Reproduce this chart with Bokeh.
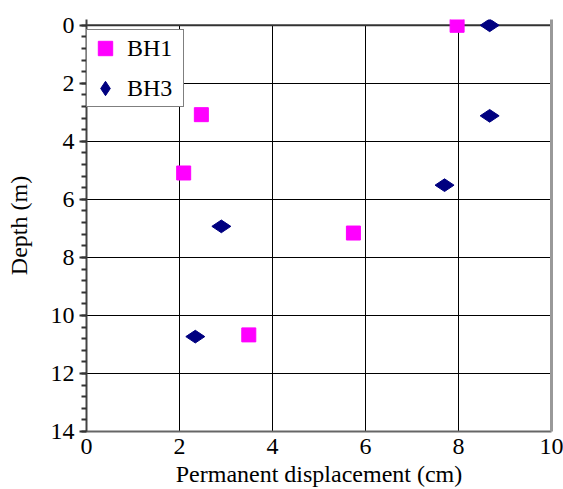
from bokeh.plotting import figure
from bokeh.models import (Range1d, SingleIntervalTicker, Legend, LegendItem,
                          LinearAxis, FixedTicker, Span)
from bokeh.embed import file_html
from bokeh.resources import INLINE
import math

# Data
bh1_disp = [7.97, 2.47, 2.09, 5.74, 3.49]
bh1_depth = [0.0, 3.08, 5.09, 7.16, 10.67]
bh3_disp = [8.67, 8.67, 7.70, 2.90, 2.34]
bh3_depth = [0.0, 3.12, 5.51, 6.93, 10.73]

x_ticks = [0, 2, 4, 6, 8, 10]
y_ticks = [0, 2, 4, 6, 8, 10, 12, 14]

FONT = "Liberation Serif"

p = figure(width=563, height=489, output_backend="svg", toolbar_location=None,
           x_range=Range1d(0, 10), y_range=Range1d(14, -0.2),
           min_border_left=86, min_border_right=12, min_border_top=19,
           min_border_bottom=55)

p.background_fill_color = "white"
p.border_fill_color = "white"
p.outline_line_color = None

# Axes
p.xaxis.ticker = x_ticks
p.yaxis.ticker = SingleIntervalTicker(interval=2, num_minor_ticks=5)
for ax in (p.xaxis[0], p.yaxis[0]):
    ax.major_label_text_font = FONT
    ax.major_label_text_font_size = "24px"
    ax.major_label_text_color = "black"
    ax.axis_label_text_font = FONT
    ax.axis_label_text_font_size = "24px"
    ax.axis_label_text_font_style = "normal"
    ax.axis_label_text_color = "black"
    ax.axis_line_width = 2
    ax.major_tick_in = 0
    ax.minor_tick_in = 0

p.xaxis.axis_line_color = "#666666"
p.yaxis.axis_line_color = "#444444"

p.xaxis.axis_label = "Permanent displacement (cm)"
p.xaxis.major_tick_out = 0
p.xaxis.minor_tick_out = 0
p.xaxis.major_label_standoff = 7
p.xaxis.axis_label_standoff = 4

p.yaxis.axis_label = "Depth (m)"
p.yaxis.major_tick_out = 7
p.yaxis.minor_tick_out = 5
p.yaxis.major_tick_line_color = "#333333"
p.yaxis.minor_tick_line_color = "#333333"
p.yaxis.major_tick_line_width = 2
p.yaxis.minor_tick_line_width = 2
p.yaxis.major_label_standoff = 5
p.yaxis.axis_label_standoff = 16

# right border
right_axis = LinearAxis(ticker=FixedTicker(ticks=[]), axis_line_color="#999999",
                        axis_line_width=3, major_tick_out=0, minor_tick_out=0,
                        major_tick_in=0, minor_tick_in=0)
p.add_layout(right_axis, "right")

# Grid
p.xgrid.ticker = x_ticks
p.ygrid.ticker = y_ticks
p.xgrid.cross_bounds = (0, 14)
for g in (p.xgrid[0], p.ygrid[0]):
    g.grid_line_color = "black"
    g.grid_line_width = 1
    g.grid_line_alpha = 1.0

# top border at depth 0
top = Span(location=0, dimension="width", line_color="#333333", line_width=2,
           level="underlay")
p.add_layout(top)

# Data
r1 = p.scatter(bh1_disp, bh1_depth, marker="square", size=14,
               fill_color="#FF00FF", line_color="#FF00FF")
r3 = p.scatter(bh3_disp, bh3_depth, marker="diamond", size=19, angle=math.pi / 2,
               fill_color="#000080", line_color="#000080")

legend = Legend(items=[LegendItem(label="BH1", renderers=[r1]),
                       LegendItem(label="BH3", renderers=[r3])],
                location=(0, 324), orientation="vertical")
legend.label_text_font = FONT
legend.label_text_font_size = "24px"
legend.label_text_color = "black"
legend.glyph_width = 36
legend.glyph_height = 36
legend.label_height = 36
legend.label_width = 56
legend.spacing = 4
legend.padding = 0
legend.margin = 0
legend.label_standoff = 4
legend.border_line_color = "black"
legend.border_line_width = 1
legend.background_fill_color = "white"
legend.background_fill_alpha = 1.0
p.add_layout(legend, "center")

open("out.html", "w").write(file_html(p, INLINE))
